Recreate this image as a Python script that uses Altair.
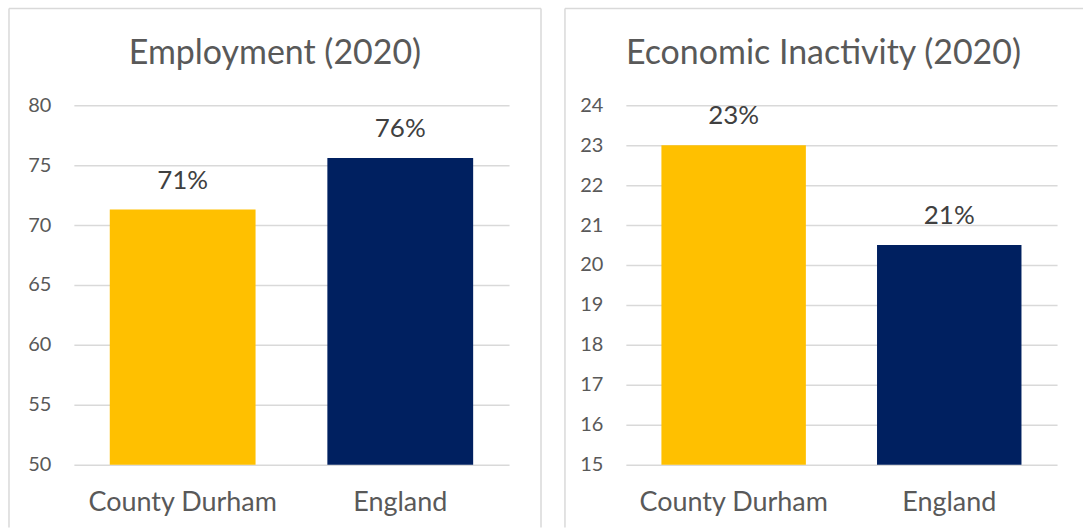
import altair as alt
import pandas as pd

regions = ["County Durham", "England"]
bar_colors = ["#FFC000", "#002060"]

employment = [71.3, 75.6]
employment_labels = ["71%", "76%"]
employment_ticks = [50, 55, 60, 65, 70, 75, 80]

inactivity = [23.0, 20.5]
inactivity_labels = ["23%", "21%"]
inactivity_ticks = [15, 16, 17, 18, 19, 20, 21, 22, 23, 24]

FONT = "Lato"
GREY = "#595959"
BORDER = "#D9D9D9"


def panel(values, labels, ticks, title, width, dx, left, right, right_border):
    df = pd.DataFrame({"region": regions, "value": values, "label": labels})
    base = alt.Chart(df)
    x = alt.X(
        "region:N",
        sort=regions,
        title=None,
        scale=alt.Scale(paddingInner=0.33, paddingOuter=0.165),
        axis=alt.Axis(labelAngle=0, domain=False, ticks=False, labelFontSize=27,
                      labelFont=FONT, labelColor=GREY, labelPadding=25, labelLimit=400),
    )
    y = alt.Y(
        "value:Q",
        title=None,
        scale=alt.Scale(domain=[ticks[0], ticks[-1]], zero=False, nice=False),
        axis=alt.Axis(values=ticks, tickCount=len(ticks), domain=False, ticks=False, labelFontSize=20,
                      labelFont=FONT, labelColor=GREY, labelPadding=23, labelOverlap=False,
                      grid=True, gridColor=BORDER, gridWidth=1.5),
    )
    bars = base.mark_bar().encode(
        x=x,
        y=y,
        y2=alt.datum(ticks[0]),
        color=alt.Color("region:N", scale=alt.Scale(domain=regions, range=bar_colors), legend=None),
    )
    text = base.mark_text(dy=-21, baseline="alphabetic", fontSize=26, font=FONT,
                          color="#404040").encode(x=x, y=y, text="label:N")
    one = alt.Chart(alt.Data(values=[{"a": 1}]))
    top_y = -97
    bottom_y = 423
    layers = [
        one.mark_rule(color=BORDER, strokeWidth=1.5).encode(x=alt.value(left), y=alt.value(top_y), y2=alt.value(bottom_y)),
        one.mark_rule(color=BORDER, strokeWidth=1.5).encode(x=alt.value(left), x2=alt.value(right), y=alt.value(top_y)),
    ]
    if right_border:
        layers.append(one.mark_rule(color=BORDER, strokeWidth=1.5).encode(x=alt.value(right), y=alt.value(top_y), y2=alt.value(bottom_y)))
    return alt.layer(bars, text, *layers).properties(
        width=width,
        height=360,
        title=alt.TitleParams(title, fontSize=34, font=FONT, color=GREY, fontWeight="normal",
                              anchor="middle", dx=dx, offset=-63),
    )


left_panel = panel(employment, employment_labels, employment_ticks, "Employment (2020)", 436, -16.5, -65, 468, True)
right_panel = panel(inactivity, inactivity_labels, inactivity_ticks, "Economic Inactivity (2020)", 432, -18, -61, 458, False)

chart = alt.hconcat(left_panel, right_panel, spacing=22).properties(
    padding={"left": 8, "top": 7, "right": 0, "bottom": 0},
    background="white",
).configure_view(stroke=None)

chart.save("out.html", embed_options={"renderer": "svg", "actions": False})
